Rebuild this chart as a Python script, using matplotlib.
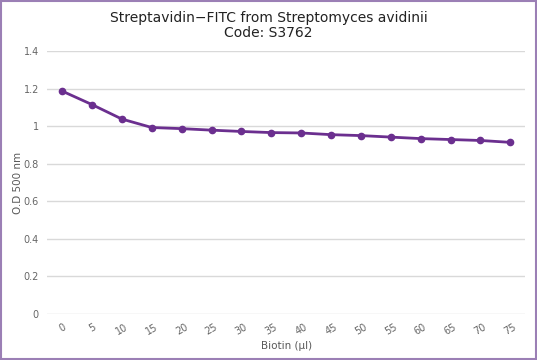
import matplotlib.pyplot as plt
from matplotlib.patches import Rectangle

# Biotin volume (categories) and optical density readings
biotin = [0, 5, 10, 15, 20, 25, 30, 35, 40, 45, 50, 55, 60, 65, 70, 75]
od500 = [1.187, 1.115, 1.038, 0.993, 0.987, 0.979, 0.972, 0.966, 0.964,
         0.955, 0.950, 0.942, 0.934, 0.929, 0.924, 0.914]
yticks = [0, 0.2, 0.4, 0.6, 0.8, 1, 1.2, 1.4]
ytick_labels = ["0", "0.2", "0.4", "0.6", "0.8", "1", "1.2", "1.4"]

fig = plt.figure(figsize=(5.37, 3.6), dpi=100)
ax = fig.add_axes([0.088, 0.128, 0.89, 0.73])

pos = list(range(len(biotin)))
ax.plot(pos, od500, color="#6b2f8f", linewidth=2, marker="o", markersize=4.5,
        solid_capstyle="round", zorder=3)

ax.set_xlim(-0.5, len(biotin) - 0.5)
ax.set_ylim(0, 1.4)
ax.set_yticks(yticks)
ax.set_yticklabels(ytick_labels)
ax.set_xticks(pos)
ax.set_xticklabels([str(b) for b in biotin], rotation=30)
ax.tick_params(axis="both", length=0, colors="#666666", labelsize=7)
ax.tick_params(axis="y", pad=6)
ax.tick_params(axis="x", pad=6)
ax.grid(axis="y", color="#d9d9d9", linewidth=1)
ax.set_axisbelow(True)
for s in ax.spines.values():
    s.set_visible(False)

ax.set_xlabel("Biotin (µl)", fontsize=7.5, color="#595959", labelpad=3)
ax.set_ylabel("O.D 500 nm", fontsize=7.5, color="#595959")
ax.yaxis.set_label_coords(-0.05, 0.5)

fig.suptitle("Streptavidin\u2212FITC from Streptomyces avidinii\nCode: S3762",
             fontsize=10, y=0.97, color="#222222", linespacing=1.15)

fig.patches.append(Rectangle((0.002, 0.003), 0.996, 0.994, transform=fig.transFigure,
                             fill=False, edgecolor="#9b7fb5", linewidth=1.5))

fig.savefig("out.png", dpi=100)
